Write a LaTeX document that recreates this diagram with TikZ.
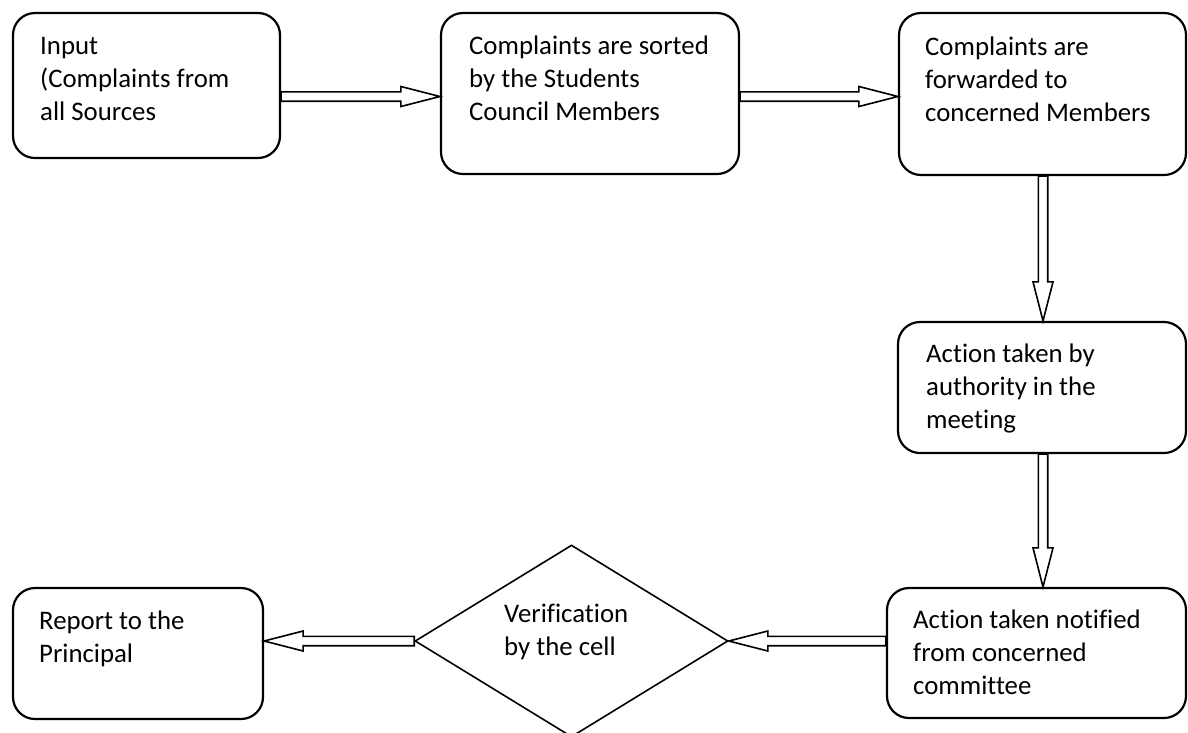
\documentclass[tikz,border=0pt]{standalone}
\usepackage{fontspec}
\setmainfont{Carlito}[Ligatures={NoCommon}]
\usetikzlibrary{calc,shapes.geometric}
\tikzset{
  box/.style={draw, line width=2.2pt, rounded corners=22pt, inner sep=0pt},
  decision/.style={draw, diamond, line width=1.6pt, inner sep=0pt},
  arr/.style={draw, line width=1.6pt, line join=miter, fill=white},
  txt/.style={anchor=base west, align=left, inner sep=0pt, font=\fontsize{26.8}{33}\selectfont}
}
\newcommand\hollowarr[2]{%
  \coordinate (ha) at (#1);
  \coordinate (hb) at (#2);
  \coordinate (hh) at ($(hb)!39pt!(ha)$);
  \draw[arr] ($(ha)!4.7pt!90:(hb)$) -- ($(hh)!4.7pt!-90:(ha)$) -- ($(hh)!10pt!-90:(ha)$) -- (hb)
    -- ($(hh)!10pt!90:(ha)$) -- ($(hh)!4.7pt!90:(ha)$) -- ($(ha)!4.7pt!-90:(hb)$) -- cycle;}
\begin{document}
\begin{tikzpicture}[x=1pt,y=-1pt]
\useasboundingbox (0,0) rectangle (1188,732);
\fill[white] (0,0) rectangle (1188,732);
\node[box, minimum width=267pt, minimum height=145pt] (b1) at (146.5,85.5) {};
\node[box, minimum width=298pt, minimum height=161pt] (b2) at (590,93.5) {};
\node[box, minimum width=287pt, minimum height=162pt] (b3) at (1042.5,94) {};
\node[box, minimum width=288pt, minimum height=131pt] (b4) at (1042,387.5) {};
\node[box, minimum width=299pt, minimum height=130pt] (b5) at (1036.5,653) {};
\node[box, minimum width=250pt, minimum height=131pt] (b6) at (138,653.5) {};
\node[decision, minimum width=313pt, minimum height=192pt] (dia) at (571.5,641) {};

\node[txt] (t1) at (40,120) {Input\\(Complaints from\\all Sources};
\node[txt] (t2) at (469,120) {Complaints are sorted\\by the Students\\Council Members};
\node[txt] (t3) at (925,121) {Complaints are\\forwarded to\\concerned Members};
\node[txt] (t4) at (926,428) {Action taken by\\authority in the\\meeting};
\node[txt] (t5) at (913,694) {Action taken notified\\from concerned\\committee};
\node[txt] (t6) at (39,662) {Report to the\\Principal};
\node[txt] (t7) at (504,655) {Verification\\by the cell};

\hollowarr{b1.east |- 0,96.5}{b2.west |- 0,96.5}
\hollowarr{b2.east |- 0,96.5}{b3.west |- 0,96.5}
\hollowarr{b3.south -| 1043,0}{b4.north -| 1043,0}
\hollowarr{b4.south -| 1043,0}{b5.north -| 1043,0}
\hollowarr{b5.west |- dia.east}{dia.east}
\hollowarr{dia.west}{b6.east |- dia.west}
\end{tikzpicture}
\end{document}
